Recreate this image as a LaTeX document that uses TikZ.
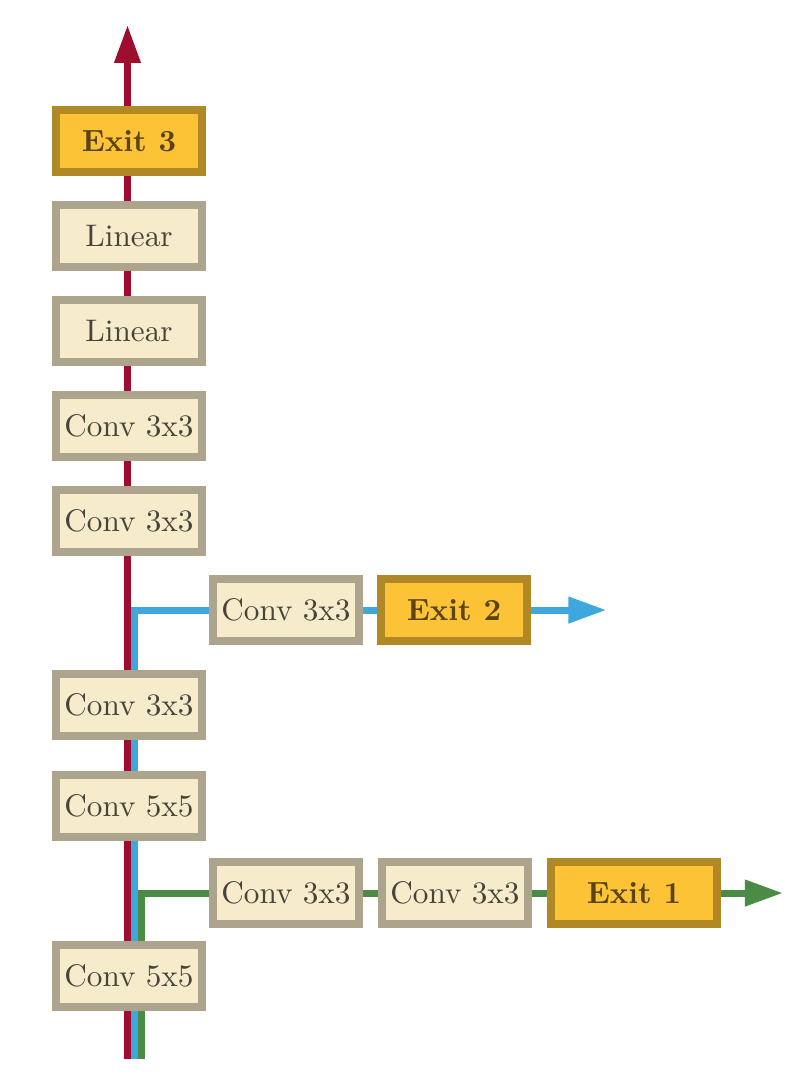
\documentclass[tikz,border=0pt]{standalone}
\usepackage{tikz}
\usetikzlibrary{positioning, arrows.meta, backgrounds}

\definecolor{boxfill}{RGB}{246,236,204}
\definecolor{boxline}{RGB}{172,164,141}
\definecolor{exitfill}{RGB}{252,195,54}
\definecolor{exitline}{RGB}{176,137,38}
\definecolor{textgray}{RGB}{70,68,58}
\definecolor{exittext}{RGB}{90,68,20}
\definecolor{pathred}{RGB}{158,13,46}
\definecolor{pathblue}{RGB}{62,168,222}
\definecolor{pathgreen}{RGB}{74,139,70}

\tikzset{
  layer/.style={draw=boxline, fill=boxfill, line width=2.667pt, text=textgray,
    minimum width=48.67pt, minimum height=20.67pt, inner sep=0pt,
    font=\fontsize{10.4}{12}\selectfont},
  exitbox/.style={layer, draw=exitline, fill=exitfill, text=exittext,
    font=\fontsize{10.2}{12}\selectfont\bfseries},
  flow/.style={line width=2.333pt, -{Triangle[length=12.67pt,width=8.33pt]}},
}

\begin{document}
\begin{tikzpicture}[node distance=31.67pt, on grid]
    \useasboundingbox (0,0) rectangle (268.67pt,-363.67pt);

    % main column
    \node[exitbox] (exit3) at (43pt,-47pt) {Exit 3};
    \node[layer] (lin2) [below=of exit3] {Linear};
    \node[layer] (lin1) [below=of lin2] {Linear};
    \node[layer] (conv4) [below=of lin1] {Conv 3x3};
    \node[layer] (conv3) [below=of conv4] {Conv 3x3};
    \node[layer] (conv2) [below=61.33pt of conv3] {Conv 3x3};
    \node[layer] (conv5b) [below=33.67pt of conv2] {Conv 5x5};
    \node[layer] (conv5a) [below=56.67pt of conv5b] {Conv 5x5};

    % branch 2
    \node[layer] (b1conv) [below right=29.67pt and 52.33pt of conv3] {Conv 3x3};
    \node[exitbox] (exit2) [right=56pt of b1conv] {Exit 2};

    % branch 1
    \node[layer] (b2conva) [below right=29pt and 52.33pt of conv5b] {Conv 3x3};
    \node[layer] (b2convb) [right=56.33pt of b2conva] {Conv 3x3};
    \node[exitbox, minimum width=55.33pt] (exit1) [right=59.67pt of b2convb] {Exit 1};

    \coordinate[below=27.67pt of conv5a] (src);
    \coordinate[above=38.67pt of exit3] (out3);
    \coordinate[right=50.83pt of exit2] (out2);
    \coordinate[right=49.67pt of exit1] (out1);

    \begin{scope}[on background layer]
    \draw[flow, pathred] ([xshift=-0.5pt]src) -- ([xshift=-0.5pt]out3);
    \draw[flow, pathblue] ([xshift=1.83pt]src) |- (b1conv) -- (exit2) -- (out2);
    \draw[flow, pathgreen] ([xshift=4.17pt]src) |- (b2conva) -- (b2convb) -- (exit1) -- (out1);
    \end{scope}
\end{tikzpicture}
\end{document}
